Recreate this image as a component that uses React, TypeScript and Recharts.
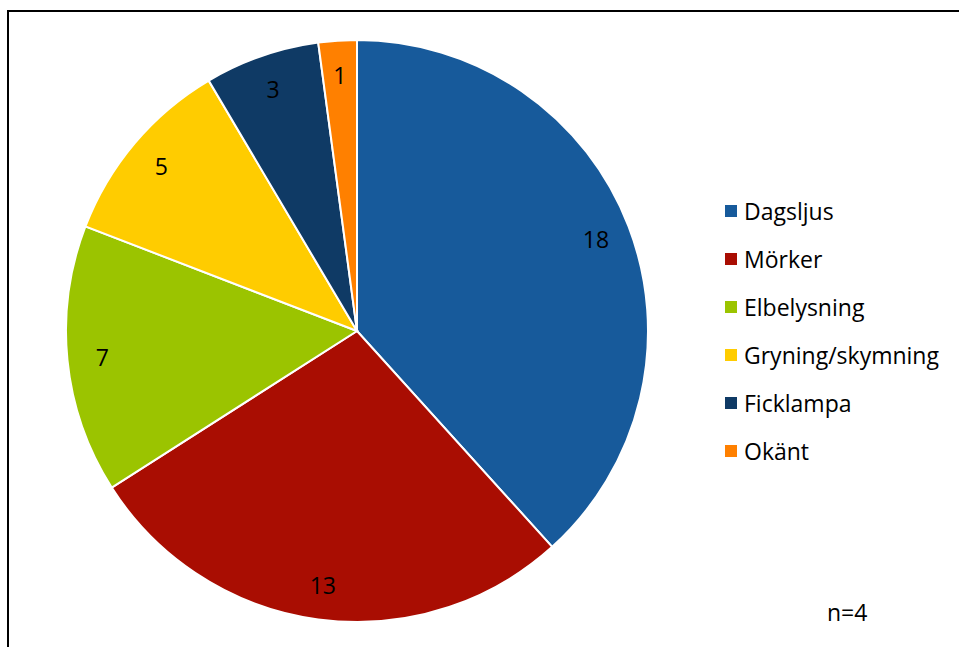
import React from "react";
import { PieChart, Pie, Cell, Legend } from "recharts";

const categories = ["Dagsljus", "Mörker", "Elbelysning", "Gryning/skymning", "Ficklampa", "Okänt"];
const counts = [18, 13, 7, 5, 3, 1];
const colors = ["#175A9B", "#A90D02", "#9BC400", "#FFCC00", "#0F3A65", "#FF8000"];
const note = "n=4";

const data = categories.map((name, i) => ({ name, value: counts[i] }));

const FONT = "'Open Sans', 'Noto Sans', sans-serif";
const RADIAN = Math.PI / 180;

function renderLabel(props: any) {
  const { cx, cy, midAngle, outerRadius, value } = props;
  const r = outerRadius * 0.88;
  const x = cx + r * Math.cos(-midAngle * RADIAN);
  const y = cy + r * Math.sin(-midAngle * RADIAN);
  return (
    <text
      x={x}
      y={y}
      fill="#000"
      fontSize={23}
      fontFamily={FONT}
      textAnchor="middle"
      dominantBaseline="central"
    >
      {value}
    </text>
  );
}

function renderLegend() {
  return (
    <div style={{ fontFamily: FONT, fontSize: 23, color: "#000" }}>
      {data.map((d, i) => (
        <div key={d.name} style={{ height: 48, display: "flex", alignItems: "center" }}>
          <span
            style={{
              width: 12,
              height: 12,
              background: colors[i],
              display: "inline-block",
              marginRight: 7,
            }}
          />
          <span>{d.name}</span>
        </div>
      ))}
    </div>
  );
}

export default function App() {
  return (
    <div
      style={{
        position: "absolute",
        left: 7,
        top: 10,
        width: 1000,
        height: 700,
        borderLeft: "2px solid #000",
        borderTop: "2px solid #000",
        background: "#fff",
      }}
    >
      <PieChart width={950} height={640} margin={{ top: 0, right: 0, bottom: 0, left: 0 }}>
        <Pie
          data={data}
          dataKey="value"
          nameKey="name"
          cx={348}
          cy={319}
          outerRadius={291}
          startAngle={90}
          endAngle={-270}
          stroke="#fff"
          strokeWidth={2}
          label={renderLabel}
          labelLine={false}
          isAnimationActive={false}
        >
          {data.map((d, i) => (
            <Cell key={d.name} fill={colors[i]} />
          ))}
        </Pie>
        <Legend
          content={renderLegend}
          wrapperStyle={{ position: "absolute", left: 716, top: 175, width: 240 }}
        />
      </PieChart>
      <div
        style={{
          position: "absolute",
          left: 818,
          top: 584,
          fontFamily: FONT,
          fontSize: 23,
          color: "#000",
        }}
      >
        {note}
      </div>
    </div>
  );
}
